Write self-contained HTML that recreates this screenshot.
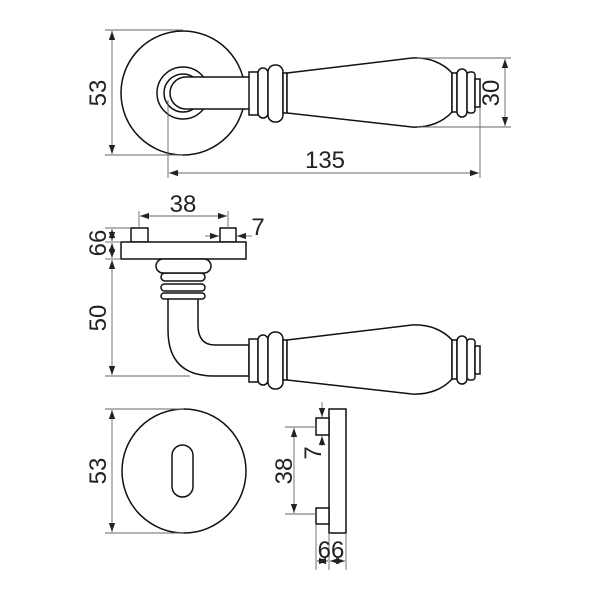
<!DOCTYPE html>
<html><head><meta charset="utf-8"><style>
html,body{margin:0;padding:0;background:#fff}
svg{display:block}
text{font-family:"Liberation Sans",sans-serif;font-size:24px;fill:#222}
.o{fill:#fff;stroke:#111;stroke-width:1.5}
.n{fill:none;stroke:#111;stroke-width:1.5}
.d{fill:none;stroke:#666;stroke-width:0.9}
</style></head><body>
<svg width="600" height="600" viewBox="0 0 600 600" xmlns="http://www.w3.org/2000/svg">
<defs>
<marker id="a" viewBox="0 0 10 10" refX="10" refY="5" markerWidth="9" markerHeight="9" orient="auto-start-reverse" markerUnits="userSpaceOnUse"><path d="M0,1.5 L10,5 L0,8.5 Z" fill="#222"/></marker>
<g id="lever">
<rect class="o" x="249" y="72" width="9" height="43"/>
<rect class="o" x="258" y="68" width="10" height="50" rx="5"/>
<rect class="o" x="268" y="65" width="15" height="57" rx="7"/>
<rect class="o" x="283" y="73" width="4" height="40"/>
<path class="o" d="M287,73 L412,58 C430,57 444,64 452,73 L452,112 C444,121 430,128 412,127 L287,113 Z"/>
<rect class="o" x="452" y="73" width="5" height="39"/>
<rect class="o" x="457" y="69" width="10" height="48" rx="5"/>
<rect class="o" x="467" y="72" width="8" height="41" rx="3"/>
<rect class="o" x="475" y="79" width="5" height="28"/>
</g>
</defs>

<circle class="n" cx="183" cy="93" r="62"/>
<circle class="o" cx="183" cy="93" r="26"/>
<circle class="o" cx="183" cy="93" r="19"/>
<path class="o" d="M249,77 L186,77 A16,16 0 0 0 186,109 L249,109"/>
<use href="#lever"/>
<line class="d" x1="105" y1="30" x2="183" y2="30"/>
<line class="d" x1="105" y1="155" x2="183" y2="155"/>
<line class="d" x1="112" y1="31" x2="112" y2="154" marker-start="url(#a)" marker-end="url(#a)"/>
<text transform="translate(106,93) rotate(-90)" text-anchor="middle">53</text>
<line class="d" x1="417" y1="58" x2="511" y2="58"/>
<line class="d" x1="417" y1="127" x2="511" y2="127"/>
<line class="d" x1="505" y1="59" x2="505" y2="126" marker-start="url(#a)" marker-end="url(#a)"/>
<text transform="translate(499,93) rotate(-90)" text-anchor="middle">30</text>
<line class="d" x1="168" y1="100" x2="168" y2="178"/>
<line class="d" x1="480" y1="107" x2="480" y2="178"/>
<line class="d" x1="169" y1="173" x2="479" y2="173" marker-start="url(#a)" marker-end="url(#a)"/>
<text x="325" y="168" text-anchor="middle">135</text>

<rect class="o" x="131" y="228" width="17" height="14"/>
<rect class="o" x="220" y="228" width="16" height="14"/>
<rect class="o" x="121" y="242" width="125" height="17"/>
<path class="o" d="M168,298 L168,330 Q168,376 214,376 L249,376 L249,345 L215,345 Q198,345 198,325 L198,298 Z"/>
<rect class="o" x="161" y="293" width="44" height="6" rx="3"/>
<rect class="o" x="161" y="284" width="44" height="7" rx="3.5"/>
<rect class="o" x="161" y="273" width="44" height="8" rx="4"/>
<rect class="o" x="156" y="259" width="55" height="14" rx="7"/>
<use href="#lever" transform="translate(0,267)"/>
<line class="d" x1="139" y1="211" x2="139" y2="228"/>
<line class="d" x1="228" y1="211" x2="228" y2="228"/>
<line class="d" x1="140" y1="216" x2="227" y2="216" marker-start="url(#a)" marker-end="url(#a)"/>
<text x="183" y="212" text-anchor="middle">38</text>
<line class="d" x1="205" y1="236" x2="219" y2="236" marker-end="url(#a)"/>
<line class="d" x1="252" y1="236" x2="237" y2="236" marker-end="url(#a)"/>
<text x="258" y="235" text-anchor="middle">7</text>
<line class="d" x1="105" y1="228" x2="131" y2="228"/>
<line class="d" x1="105" y1="242" x2="121" y2="242"/>
<line class="d" x1="105" y1="259" x2="121" y2="259"/>
<line class="d" x1="112" y1="229" x2="112" y2="241" marker-start="url(#a)" marker-end="url(#a)"/>
<line class="d" x1="112" y1="243" x2="112" y2="258" marker-start="url(#a)" marker-end="url(#a)"/>
<text transform="translate(106,243) rotate(-90)" text-anchor="middle">66</text>
<line class="d" x1="105" y1="376" x2="190" y2="376"/>
<line class="d" x1="112" y1="260" x2="112" y2="375" marker-start="url(#a)" marker-end="url(#a)"/>
<text transform="translate(106,318) rotate(-90)" text-anchor="middle">50</text>

<circle class="n" cx="184" cy="471" r="62"/>
<rect class="n" x="172" y="445" width="21" height="52" rx="10.5"/>
<line class="d" x1="105" y1="409" x2="184" y2="409"/>
<line class="d" x1="105" y1="533" x2="184" y2="533"/>
<line class="d" x1="112" y1="410" x2="112" y2="532" marker-start="url(#a)" marker-end="url(#a)"/>
<text transform="translate(106,471) rotate(-90)" text-anchor="middle">53</text>

<rect class="o" x="329" y="409" width="17" height="124"/>
<rect class="o" x="316" y="418" width="13" height="17"/>
<rect class="o" x="316" y="508" width="13" height="16"/>
<line class="d" x1="322" y1="402" x2="322" y2="417" marker-end="url(#a)"/>
<line class="d" x1="322" y1="446" x2="322" y2="436" marker-end="url(#a)"/>
<text transform="translate(321,453) rotate(-90)" text-anchor="middle">7</text>
<line class="d" x1="285" y1="427" x2="316" y2="427"/>
<line class="d" x1="285" y1="514" x2="316" y2="514"/>
<line class="d" x1="294" y1="428" x2="294" y2="513" marker-start="url(#a)" marker-end="url(#a)"/>
<text transform="translate(292,471) rotate(-90)" text-anchor="middle">38</text>
<line class="d" x1="316" y1="524" x2="316" y2="570"/>
<line class="d" x1="329" y1="533" x2="329" y2="570"/>
<line class="d" x1="346" y1="533" x2="346" y2="570"/>
<line class="d" x1="317" y1="561" x2="328" y2="561" marker-start="url(#a)" marker-end="url(#a)"/>
<line class="d" x1="330" y1="561" x2="345" y2="561" marker-start="url(#a)" marker-end="url(#a)"/>
<text x="331" y="558" text-anchor="middle">66</text>
</svg>
</body></html>
